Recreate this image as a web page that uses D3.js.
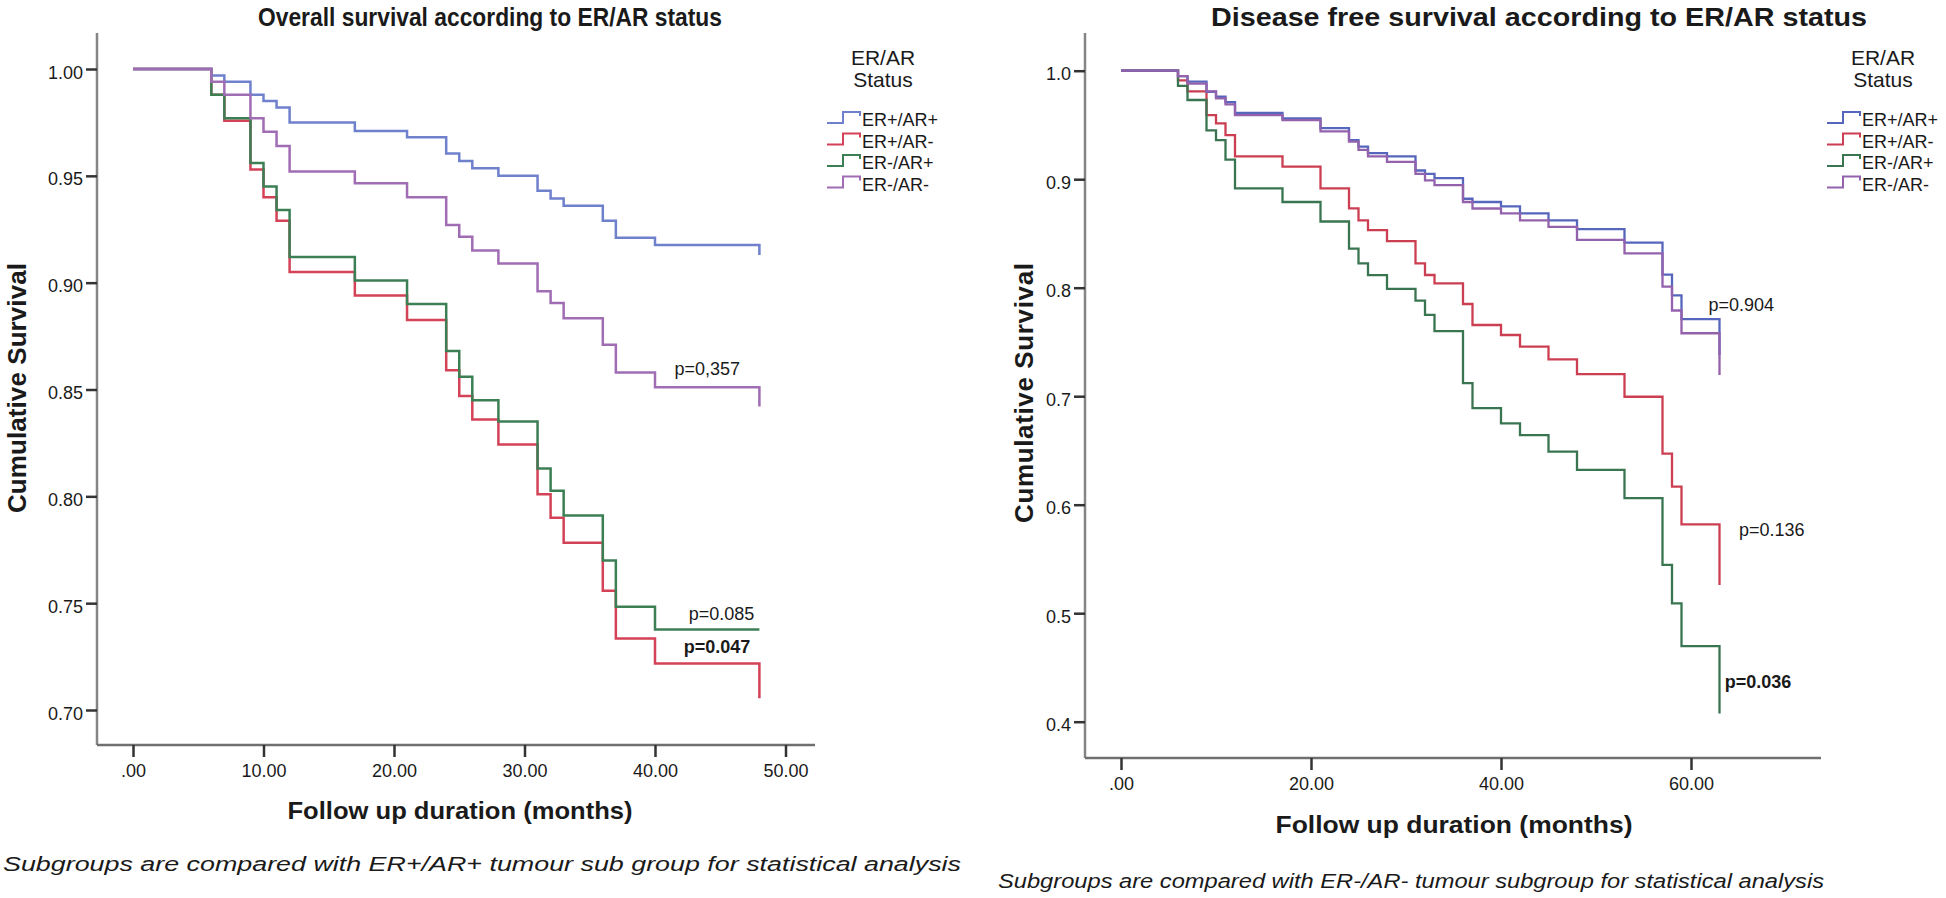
<!DOCTYPE html>
<html>
<head>
<meta charset="utf-8">
<script src="https://cdn.jsdelivr.net/npm/d3@7"></script>
<style>
  body { margin: 0; background: #fff; }
  text { font-family: "Liberation Sans", Arial, sans-serif; fill: #1a1a1a; }
</style>
</head>
<body>
<svg id="chart" width="1946" height="898"></svg>
<script>
// groups, same order in both panels
var groups = ["ER+/AR+", "ER+/AR-", "ER-/AR+", "ER-/AR-"];

// overall survival (left) - step times in months and survival after each step
var osMonths = [0, 6, 7, 9, 10, 11, 12, 17, 21, 24, 25, 26, 28, 31, 32, 33, 36, 37, 40, 48];
var osPosPos = [1, .997, .994, .988, .985, .982, .975, .971, .968, .9605, .957, .9535, .950, .943, .9394, .936, .929, .921, .9176, .913];
var osPosNeg = [1, .988, .9758, .953, .940, .929, .905, .894, .8825, .859, .847, .836, .8243, .801, .790, .7783, .7558, .7335, .7218, .7055];
var osNegPos = [1, .988, .977, .956, .945, .934, .912, .901, .890, .868, .856, .845, .835, .813, .8026, .791, .770, .7483, .7377, .7377];
var osNegNeg = [1, .994, .988, .977, .9706, .964, .952, .9465, .940, .927, .9215, .915, .909, .896, .8905, .8833, .871, .858, .851, .842];

// disease free survival (right)
var dfsMonths = [0, 6, 7, 9, 10, 11, 12, 17, 21, 24, 25, 26, 28, 31, 32, 33, 36, 37, 40, 42, 45, 48, 53, 57, 58, 59, 63];
var dfsPosPos = [1, .995, .990, .9806, .976, .971, .961, .956, .947, .936, .930, .924, .921, .908, .905, .901, .882, .879, .875, .8685, .862, .854, .8415, .812, .793, .771, .738];
var dfsPosNeg = [1, .991, .981, .959, .9515, .9407, .921, .9115, .8915, .8731, .862, .853, .843, .8224, .8117, .804, .785, .7656, .7564, .7456, .734, .7204, .6995, .647, .6166, .5818, .526];
var dfsNegPos = [1, .986, .973, .945, .936, .918, .8916, .879, .861, .836, .8225, .8115, .799, .788, .775, .760, .712, .689, .6749, .6642, .649, .6321, .606, .5445, .509, .4697, .4076];
var dfsNegNeg = [1, .995, .988, .981, .9745, .969, .959, .9545, .944, .9346, .927, .921, .916, .905, .899, .8946, .879, .873, .8685, .862, .856, .844, .8316, .801, .779, .758, .7195];

// ticks
var osXTicks = [0, 10, 20, 30, 40, 50];
var osXLabels = [".00", "10.00", "20.00", "30.00", "40.00", "50.00"];
var osYTicks = [0.70, 0.75, 0.80, 0.85, 0.90, 0.95, 1.00];
var osYLabels = ["0.70", "0.75", "0.80", "0.85", "0.90", "0.95", "1.00"];
var dfsXTicks = [0, 20, 40, 60];
var dfsXLabels = [".00", "20.00", "40.00", "60.00"];
var dfsYTicks = [0.4, 0.5, 0.6, 0.7, 0.8, 0.9, 1.0];
var dfsYLabels = ["0.4", "0.5", "0.6", "0.7", "0.8", "0.9", "1.0"];

// p-value notes: [month, survival, text, bold]
var osNotes = [[44.0, 0.8596, "p=0,357", false], [45.1, 0.7453, "p=0.085", false], [44.75, 0.7294, "p=0.047", true]];
var dfsNotes = [[65.3, 0.784, "p=0.904", false], [68.5, 0.5767, "p=0.136", false], [67.05, 0.4367, "p=0.036", true]];

var svg = d3.select("#chart");

function panel(o) {
  var g = svg.append("g");
  var x = d3.scaleLinear().domain(o.xDomain).range(o.xRange);
  var y = d3.scaleLinear().domain(o.yDomain).range(o.yRange);

  // axis frame (L shape)
  g.append("line").attr("x1", o.left).attr("x2", o.left).attr("y1", o.top).attr("y2", o.bottom)
    .attr("stroke", "#858585").attr("stroke-width", 2.5);
  g.append("line").attr("x1", o.left).attr("x2", o.right).attr("y1", o.bottom).attr("y2", o.bottom)
    .attr("stroke", "#6f6f6f").attr("stroke-width", 2.5);

  var ya = g.append("g").attr("transform", "translate(" + o.left + ",0)")
    .call(d3.axisLeft(y).tickValues(o.yTicks).tickFormat(function(d, i) { return o.yLabels[i]; })
      .tickSize(11).tickPadding(3));
  ya.select(".domain").remove();
  ya.selectAll(".tick line").attr("stroke", "#333").attr("stroke-width", 2.5);
  ya.selectAll(".tick text").attr("font-size", 18).attr("dy", "0.5em").attr("fill", "#222")
    .style("font-family", "'Liberation Sans', Arial, sans-serif");

  var xa = g.append("g").attr("transform", "translate(0," + o.bottom + ")")
    .call(d3.axisBottom(x).tickValues(o.xTicks).tickFormat(function(d, i) { return o.xLabels[i]; })
      .tickSize(12).tickPadding(7));
  xa.select(".domain").remove();
  xa.selectAll(".tick line").attr("stroke", "#333").attr("stroke-width", 2.5);
  xa.selectAll(".tick text").attr("font-size", 18).attr("fill", "#222")
    .style("font-family", "'Liberation Sans', Arial, sans-serif");

  // survival curves
  var line = d3.line().x(function(d) { return x(d[0]); }).y(function(d) { return y(d[1]); })
    .curve(d3.curveStepAfter);
  // draw purple and blue last-ish like the original (green over red)
  [1, 2, 0, 3].forEach(function(i) {
    g.append("path").datum(d3.zip(o.months, o.series[i]))
      .attr("d", line).attr("fill", "none")
      .attr("stroke", o.colors[i]).attr("stroke-width", o.lw);
  });

  o.notes.forEach(function(n) {
    g.append("text").attr("x", x(n[0])).attr("y", y(n[1])).attr("dy", "0.35em")
      .attr("text-anchor", "middle").attr("font-size", 18)
      .attr("font-weight", n[3] ? "bold" : "normal").text(n[2]);
  });

  // titles
  g.append("text").attr("x", o.title.x).attr("y", o.title.y).attr("text-anchor", "middle")
    .attr("font-size", 25).attr("font-weight", "bold")
    .attr("textLength", o.title.len).attr("lengthAdjust", "spacingAndGlyphs").text(o.title.text);
  g.append("text").attr("x", o.xTitle.x).attr("y", o.xTitle.y).attr("text-anchor", "middle")
    .attr("font-size", 24).attr("font-weight", "bold")
    .attr("textLength", o.xTitle.len).attr("lengthAdjust", "spacingAndGlyphs").text("Follow up duration (months)");
  g.append("text").attr("transform", "translate(" + o.yTitle.x + "," + o.yTitle.y + ") rotate(-90)")
    .attr("text-anchor", "middle").attr("font-size", 26).attr("font-weight", "bold")
    .attr("textLength", o.yTitle.len).attr("lengthAdjust", "spacing").text("Cumulative Survival");
  g.append("text").attr("x", o.note.x).attr("y", o.note.y).attr("font-size", 20)
    .attr("font-style", "italic").attr("fill", "#333")
    .attr("textLength", o.note.len).attr("lengthAdjust", "spacingAndGlyphs").text(o.note.text);

  // legend
  var lg = g.append("g").attr("transform", "translate(" + o.legend.x + "," + o.legend.y + ")");
  lg.append("text").attr("x", 56).attr("y", 0).attr("text-anchor", "middle").attr("font-size", 21)
    .attr("fill", "#333").text("ER/AR");
  lg.append("text").attr("x", 56).attr("y", 22).attr("text-anchor", "middle").attr("font-size", 21)
    .attr("fill", "#333").text("Status");
  groups.forEach(function(gname, i) {
    var yy = 60 + i * 21.5;
    lg.append("path").attr("d", "M0," + (yy - 2) + "H16V" + (yy - 13) + "H33V" + (yy - 9))
      .attr("fill", "none").attr("stroke", o.colors[i]).attr("stroke-width", 2);
    lg.append("text").attr("x", 35).attr("y", yy + 1).attr("font-size", 18).attr("fill", "#222").text(gname);
  });
}

panel({
  months: osMonths,
  series: [osPosPos, osPosNeg, osNegPos, osNegNeg],
  colors: ["#6f80cc", "#d34257", "#3d7f55", "#a06cb4"],
  lw: 2.5,
  xDomain: [0, 50], xRange: [133, 785.5],
  yDomain: [0.70, 1.00], yRange: [710, 69],
  left: 97, right: 815, top: 33, bottom: 745,
  xTicks: osXTicks, xLabels: osXLabels, yTicks: osYTicks, yLabels: osYLabels,
  notes: osNotes,
  title: { x: 490, y: 26, len: 464, text: "Overall survival according to ER/AR status" },
  xTitle: { x: 460, y: 819, len: 345 },
  yTitle: { x: 26, y: 388, len: 250 },
  note: { x: 3, y: 871, len: 958, text: "Subgroups are compared with ER+/AR+ tumour sub group for statistical analysis" },
  legend: { x: 827, y: 65 }
});

panel({
  months: dfsMonths,
  series: [dfsPosPos, dfsPosNeg, dfsNegPos, dfsNegNeg],
  colors: ["#5766bd", "#cc3f52", "#3a7552", "#9462ad"],
  lw: 2.3,
  xDomain: [0, 60], xRange: [1121, 1691],
  yDomain: [0.4, 1.0], yRange: [721.7, 70.7],
  left: 1085, right: 1821, top: 33, bottom: 758,
  xTicks: dfsXTicks, xLabels: dfsXLabels, yTicks: dfsYTicks, yLabels: dfsYLabels,
  notes: dfsNotes,
  title: { x: 1539, y: 26, len: 656, text: "Disease free survival according to ER/AR status" },
  xTitle: { x: 1454, y: 833, len: 357 },
  yTitle: { x: 1033, y: 393, len: 260 },
  note: { x: 998, y: 888, len: 826, text: "Subgroups are compared with ER-/AR- tumour subgroup for statistical analysis" },
  legend: { x: 1827, y: 65 }
});
</script>
</body>
</html>
